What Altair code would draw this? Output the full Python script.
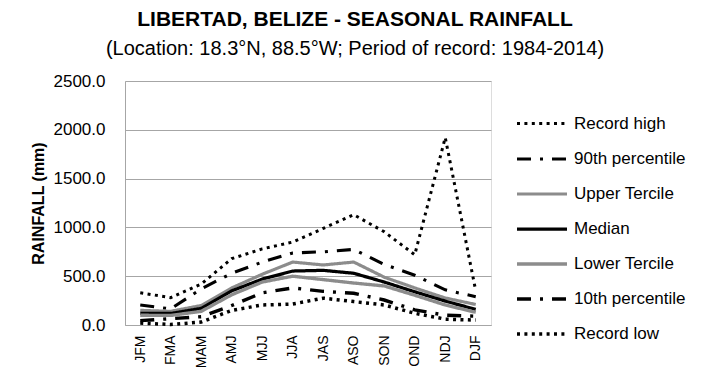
import altair as alt
import pandas as pd

seasons = ["JFM", "FMA", "MAM", "AMJ", "MJJ", "JJA", "JAS", "ASO", "SON", "OND", "NDJ", "DJF"]
series_names = ["Record high", "90th percentile", "Upper Tercile", "Median",
                "Lower Tercile", "10th percentile", "Record low"]

record_high = [330, 280, 420, 680, 780, 850, 990, 1130, 955, 720, 1920, 350]
p90 = [205, 165, 370, 530, 645, 738, 750, 775, 620, 510, 360, 290]
upper_tercile = [150, 140, 200, 380, 520, 645, 615, 645, 490, 380, 277, 210]
median = [120, 118, 170, 350, 470, 553, 560, 530, 440, 340, 245, 160]
lower_tercile = [100, 98, 140, 310, 440, 500, 465, 430, 400, 305, 205, 130]
p10 = [45, 65, 85, 200, 330, 380, 345, 325, 256, 155, 100, 90]
record_low = [20, 5, 30, 150, 205, 215, 275, 240, 205, 120, 60, 50]

all_values = [record_high, p90, upper_tercile, median, lower_tercile, p10, record_low]

rows = []
for name, vals in zip(series_names, all_values):
    for s, v in zip(seasons, vals):
        rows.append({"Series": name, "Season": s, "Rainfall": v})
df = pd.DataFrame(rows)

colors = ["#000000", "#000000", "#8c8c8c", "#000000", "#8c8c8c", "#000000", "#000000"]
dashes = [[3, 4.4], [14, 9, 3, 9], [1, 0], [1, 0], [1, 0], [14, 9, 3, 9], [3, 4.4]]
widths = [3, 3.5, 3.5, 3.8, 3.5, 3.5, 3]

FONT = "Liberation Sans"

chart = alt.Chart(df).mark_line(interpolate="linear").encode(
    x=alt.X("Season:N", sort=seasons, scale=alt.Scale(domain=seasons, paddingInner=0, paddingOuter=0.5),
            axis=alt.Axis(title=None, labelAngle=270, labelFontSize=14, labelFont=FONT,
                          labelColor="#000000", ticks=False, domainColor="#a6a6a6",
                          labelPadding=10, grid=False, labelBaseline="middle")),
    y=alt.Y("Rainfall:Q", scale=alt.Scale(domain=[0, 2500]),
            axis=alt.Axis(title="RAINFALL (mm)", values=[0, 500, 1000, 1500, 2000, 2500],
                          format=".1f", labelFontSize=17, labelFont=FONT, labelColor="#000000",
                          titleFont=FONT, titleFontSize=16, titleFontWeight="bold", titleColor="#000000",
                          ticks=False, domainColor="#a6a6a6", gridColor="#a6a6a6",
                          labelPadding=20, titlePadding=7)),
    detail="Series:N",
    color=alt.Color("Series:N", sort=series_names,
                    scale=alt.Scale(domain=series_names, range=colors),
                    legend=alt.Legend(title=None, orient="none", legendX=390, legendY=16,
                                      symbolType="stroke", symbolSize=2500,
                                      labelFont=FONT, labelFontSize=17, labelColor="#000000",
                                      labelLimit=300, rowPadding=0, labelOffset=5)),
    strokeDash=alt.StrokeDash("Series:N", sort=series_names,
                              scale=alt.Scale(domain=series_names, range=dashes), legend=None),
    strokeWidth=alt.StrokeWidth("Series:N", sort=series_names,
                                scale=alt.Scale(domain=series_names, range=widths), legend=None),
).properties(
    width=366, height=244,
    autosize=alt.AutoSizeParams(type="none"),
    padding={"left": 125, "top": 81, "right": 219, "bottom": 50},
    title=alt.Title(
        "LIBERTAD, BELIZE - SEASONAL RAINFALL",
        subtitle="(Location: 18.3°N, 88.5°W; Period of record: 1984-2014)",
        font=FONT, fontSize=21, fontWeight="bold", color="#000000",
        subtitleFont=FONT, subtitleFontSize=20, subtitleColor="#000000",
        anchor="middle", dx=47, offset=13, subtitlePadding=9,
    ),
).configure_view(stroke=None).configure(background="white")

chart.save("out.html", embed_options={"renderer": "svg", "actions": False})
